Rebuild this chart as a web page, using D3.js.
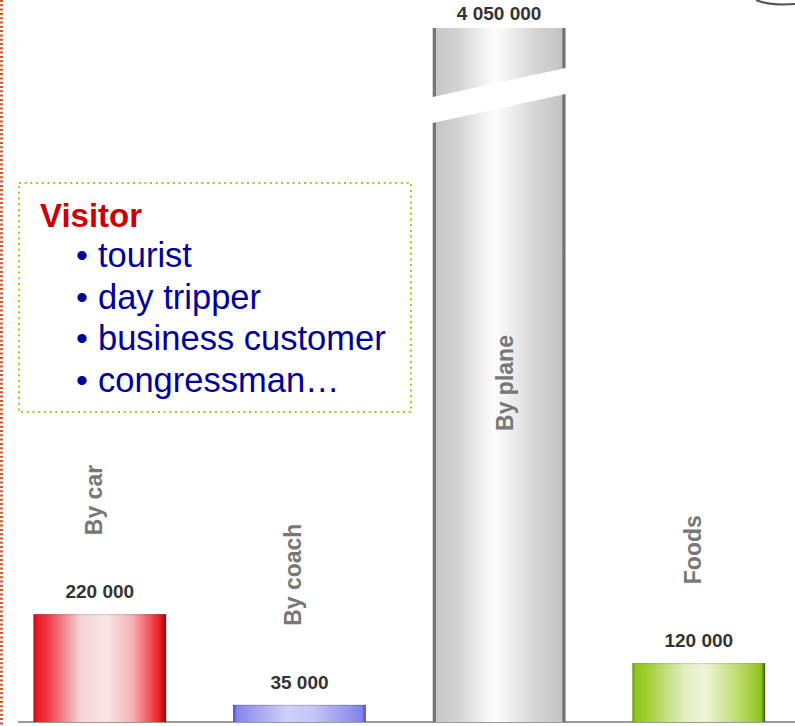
<!DOCTYPE html>
<html>
<head>
<meta charset="utf-8">
<style>
  html, body { margin: 0; padding: 0; background: #fff; }
  svg { display: block; font-family: Arial, "Liberation Sans", sans-serif; }
</style>
</head>
<body>
<div id="chart"></div>
<script src="https://d3js.org/d3.v7.min.js"></script>
<script>
  // data
  const categories = ["By car", "By coach", "By plane", "Foods"];
  const values = [220000, 35000, 4050000, 120000];
  const valueLabels = ["220 000", "35 000", "4 050 000", "120 000"];
  const visitorTitle = "Visitor";
  const visitorItems = ["tourist", "day tripper", "business customer", "congressman…"];

  const width = 795, height = 726;
  const baseY = 722;

  const svg = d3.select("#chart").append("svg")
    .attr("width", width).attr("height", height);

  // broken value axis: normal part up to 250 000, the rest squeezed above the break
  const y = d3.scaleLinear()
    .domain([0, 250000, d3.max(values)])
    .range([baseY, 599.5, 28]);

  const x = d3.scaleBand()
    .domain(categories)
    .range([0, 798.6])
    .paddingInner(0.335)
    .paddingOuter(0.1675);

  // gradients
  const grads = {
    "By car": [[0, "#a80c16"], [0.025, "#ec1824"], [0.1, "#f03442"], [0.35, "#f8d2d4"],
               [0.55, "#fae6e6"], [0.75, "#f5b0b4"], [0.95, "#ec1c26"], [1, "#8a0a12"]],
    "By coach": [[0, "#4a4ab8"], [0.03, "#8686ec"], [0.4, "#cfcffa"], [0.6, "#c6c6f7"],
                 [0.97, "#8282ec"], [1, "#4a4ab8"]],
    "By plane": [[0, "#6c6c6c"], [0.022, "#7a7a7a"], [0.025, "#c6c6c6"], [0.2, "#d4d4d4"],
                 [0.36, "#eeeeee"], [0.46, "#fdfdfd"], [0.56, "#f2f2f2"], [0.8, "#d2d2d2"],
                 [0.975, "#c4c4c4"], [0.978, "#7a7a7a"], [1, "#6c6c6c"]],
    "Foods": [[0, "#5e8c0e"], [0.02, "#8ec41e"], [0.1, "#9ece2e"], [0.4, "#e4efc4"],
              [0.55, "#eef5d8"], [0.8, "#bedb6c"], [0.97, "#8ec41e"], [1, "#3c5610"]]
  };
  const defs = svg.append("defs");
  categories.forEach((c, i) => {
    const g = defs.append("linearGradient")
      .attr("id", "g" + i)
      .attr("x1", 0).attr("x2", 1).attr("y1", 0).attr("y2", 0);
    grads[c].forEach(s => g.append("stop").attr("offset", s[0]).attr("stop-color", s[1]));
  });

  // left dotted border
  svg.append("line")
    .attr("x1", 1.5).attr("x2", 1.5).attr("y1", 0).attr("y2", height)
    .attr("stroke", "#e0502a").attr("stroke-width", 3)
    .attr("stroke-dasharray", "2 2.3");

  // bit of a logo circle peeking in at the top right
  svg.append("path")
    .attr("d", "M756,0 Q770,6 795,4")
    .attr("fill", "none").attr("stroke", "#555").attr("stroke-width", 2.2);

  // baseline
  svg.append("line")
    .attr("x1", 18).attr("x2", width).attr("y1", baseY).attr("y2", baseY)
    .attr("stroke", "#9a9a9a").attr("stroke-width", 2);

  const topY = y.range()[2];
  const cutR = topY + 40, cutL = topY + 69, gap = 26;

  categories.forEach((c, i) => {
    const v = values[i];
    const x0 = x(c), x1 = x0 + x.bandwidth();
    const broken = v > y.domain()[1];
    if (broken) {
      svg.append("path")
        .attr("d", `M${x0},${topY}H${x1}V${cutR}L${x0},${cutL}Z`)
        .attr("fill", `url(#g${i})`);
      svg.append("path")
        .attr("d", `M${x0},${cutL + gap}L${x1},${cutR + gap}V${baseY}H${x0}Z`)
        .attr("fill", `url(#g${i})`);
    } else {
      svg.append("rect")
        .attr("x", x0).attr("y", y(v))
        .attr("width", x.bandwidth()).attr("height", baseY - y(v))
        .attr("fill", `url(#g${i})`);
      svg.append("line")
        .attr("x1", x0).attr("x2", x1).attr("y1", y(v) + 0.5).attr("y2", y(v) + 0.5)
        .attr("stroke", "#000").attr("stroke-opacity", 0.18);
    }

    // value label
    svg.append("text")
      .attr("x", x0 + x.bandwidth() / 2)
      .attr("y", broken ? topY - 8 : y(v) - 16)
      .attr("text-anchor", "middle")
      .attr("font-size", 19).attr("font-weight", "bold")
      .attr("fill", "#333")
      .text(valueLabels[i]);

    // category label, rotated
    const cx = x0 + x.bandwidth() / 2 + (broken ? 14 : 2);
    const ly = broken ? 383 : y(v) - 79;
    svg.append("text")
      .attr("transform", `translate(${cx},${ly}) rotate(-90)`)
      .attr("text-anchor", broken ? "middle" : "start")
      .attr("font-size", 23).attr("font-weight", "bold")
      .attr("fill", "#777")
      .text(c);
  });

  // visitor box
  svg.append("rect")
    .attr("x", 19).attr("y", 183).attr("width", 392).attr("height", 229)
    .attr("fill", "#fff")
    .attr("stroke", "#9acd1e").attr("stroke-width", 2)
    .attr("stroke-dasharray", "2 3.7");

  svg.append("text")
    .attr("x", 40).attr("y", 227)
    .attr("font-size", 33).attr("font-weight", "bold")
    .attr("fill", "#cc0000")
    .text(visitorTitle);

  visitorItems.forEach((t, i) => {
    const by = 267 + i * 41.7;
    svg.append("text")
      .attr("x", 76).attr("y", by)
      .attr("font-size", 34).attr("fill", "#000099")
      .text("•");
    svg.append("text")
      .attr("x", 98).attr("y", by)
      .attr("font-size", 34.5).attr("fill", "#000099")
      .text(t);
  });
</script>
</body>
</html>
